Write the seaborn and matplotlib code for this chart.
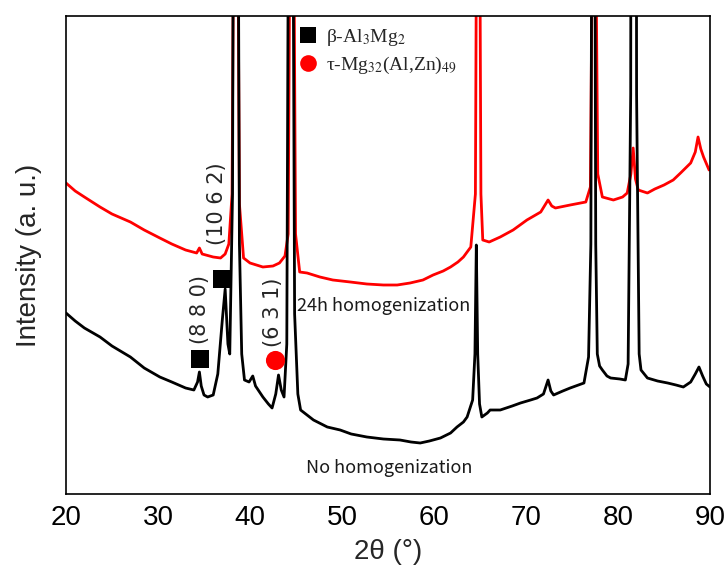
import matplotlib
matplotlib.use("Agg")
import matplotlib.pyplot as plt
from matplotlib.lines import Line2D
import seaborn as sns
import pandas as pd

# ---- data (2theta in degrees, intensity in arbitrary units) ----
two_theta_no = [20.0, 21.0, 22.0, 23.7, 25.0, 27.0, 28.5, 30.2, 31.5, 33.0, 33.9, 34.3, 34.5, 34.7,
                35.0, 35.4, 36.0, 36.5, 37.0, 37.3, 37.6, 37.8, 38.1, 38.22, 38.35, 38.55, 38.68, 38.85,
                39.1, 39.4, 39.9, 40.3, 40.6, 41.4, 42.0, 42.4, 42.8, 43.1, 43.4, 43.7, 44.0, 44.18,
                44.3, 44.55, 44.67, 44.85, 45.2, 45.5, 46.9, 48.4, 49.8, 51.0, 52.7, 54.5, 56.3, 57.5,
                58.5, 59.5, 60.7, 61.8, 62.5, 63.2, 63.6, 64.2, 64.45, 64.6, 64.75, 64.95, 65.2, 65.8,
                66.1, 67.2, 68.5, 69.4, 70.5, 71.2, 71.9, 72.4, 72.7, 73.0, 74.0, 74.8, 75.7, 76.3,
                76.8, 77.05, 77.18, 77.3, 77.45, 77.58, 77.75, 78.0, 78.3, 78.8, 79.2, 80.2, 80.8, 81.1,
                81.38, 81.5, 81.9, 82.02, 82.3, 82.5, 83.2, 84.3, 85.4, 86.3, 87.1, 87.9, 88.4, 88.8,
                89.2, 89.6, 90.0]
intensity_no = [181, 173, 166, 157, 148, 137, 126, 117, 112, 106, 104, 112, 122, 108,
                99, 97, 99, 120, 175, 205, 150, 140, 300, 700, 1500, 1500, 700, 250,
                140, 114, 112, 118, 108, 97, 90, 86, 100, 119, 104, 97, 150, 600,
                1500, 1500, 600, 180, 100, 84, 74, 67, 64, 60, 57, 55, 54, 52,
                51, 53, 56, 61, 67, 72, 77, 94, 140, 249, 140, 90, 77, 81,
                84, 84, 88, 91, 94, 96, 100, 114, 103, 99, 103, 106, 109, 111,
                137, 250, 700, 1500, 700, 250, 140, 128, 124, 118, 116, 115, 114, 130,
                400, 1500, 1500, 400, 140, 124, 116, 113, 111, 109, 107, 112, 120, 127,
                118, 110, 107]

two_theta_24h = [20.0, 21.0, 22.0, 23.7, 25.0, 27.0, 28.5, 30.2, 31.5, 33.0, 34.2, 34.5, 34.8,
                 36.0, 36.8, 37.3, 37.7, 38.05, 38.3, 38.45, 38.6, 38.85, 39.3, 40.0, 41.4,
                 42.5, 43.2, 43.8, 44.15, 44.42, 44.55, 44.68, 44.95, 45.4, 46.2, 47.6, 49.0,
                 50.9, 52.7, 54.5, 56.0, 57.4, 58.8, 59.9, 61.0, 61.8, 62.6, 63.2, 64.0, 64.5,
                 64.68, 64.8, 64.92, 65.1, 65.3, 66.0, 67.2, 68.6, 70.1, 71.6, 72.4, 72.8,
                 73.2, 74.8, 76.5, 77.0, 77.25, 77.4, 77.55, 77.8, 78.3, 79.5, 80.5, 81.0, 81.4,
                 81.65, 81.9, 82.2, 83.2, 84.0, 85.0, 86.0, 86.8, 87.9, 88.4, 88.7, 89.0, 89.3,
                 89.9]
intensity_24h = [311, 303, 297, 287, 280, 272, 264, 256, 250, 244, 241, 246, 240,
                 237, 236, 240, 250, 300, 700, 1500, 700, 290, 236, 231, 227,
                 228, 231, 238, 260, 700, 1500, 700, 260, 222, 221, 217, 214,
                 212, 210, 209, 209, 211, 214, 219, 223, 227, 232, 237, 247, 300,
                 700, 1500, 700, 300, 254, 252, 257, 264, 274, 282, 294, 288,
                 286, 289, 292, 307, 600, 1500, 600, 320, 297, 294, 297, 301, 320,
                 346, 315, 304, 301, 305, 309, 314, 321, 331, 342, 357, 345, 337,
                 324]

series_labels = ["No homogenization", "24h homogenization"]
phase_labels = [r"β-Al$_3$Mg$_2$", r"τ-Mg$_{32}$(Al,Zn)$_{49}$"]
x_ticks = [20, 30, 40, 50, 60, 70, 80, 90]

# reflections: marker positions and label positions
beta_peaks_tt = [34.55, 36.95]
beta_peaks_int = [135, 215]
beta_labels = ["(8 8 0)", "(10 6 2)"]
beta_label_tt = [34.6, 36.45]
beta_label_int = [184, 290]
tau_peaks_tt = [42.75]
tau_peaks_int = [134]
tau_labels = ["(6 3 1)"]
tau_label_tt = [42.55]
tau_label_int = [182]

# ---- build frames ----
df_no = pd.DataFrame({"two_theta": two_theta_no, "intensity": intensity_no})
df_24 = pd.DataFrame({"two_theta": two_theta_24h, "intensity": intensity_24h})

sns.set_style("white")
plt.rcParams["font.family"] = ["Liberation Sans", "DejaVu Sans"]
plt.rcParams["mathtext.fontset"] = "stix"

fig = plt.figure(figsize=(7.27, 5.79), dpi=100)
ax = fig.add_axes([66 / 727, 1 - 494 / 579, 644 / 727, 478 / 579])

sns.lineplot(data=df_24, x="two_theta", y="intensity", ax=ax, color="#ff0000",
             linewidth=2.0, sort=False, estimator=None)
sns.lineplot(data=df_no, x="two_theta", y="intensity", ax=ax, color="black",
             linewidth=2.0, sort=False, estimator=None)

ax.set_xlim(20, 90)
ax.set_ylim(0, 478)
ax.set_xticks(x_ticks)
ax.set_xticklabels([str(t) for t in x_ticks])
ax.set_yticks([])
ax.tick_params(axis="x", direction="in", length=8, width=1.2, labelsize=20, pad=8,
               colors="black")
for s in ax.spines.values():
    s.set_color("black")
    s.set_linewidth(1.2)

ax.set_xlabel("2θ (°)", fontsize=20, labelpad=6)
ax.set_ylabel("Intensity (a. u.)", fontsize=20, labelpad=17)

# phase markers
ax.scatter(beta_peaks_tt, beta_peaks_int, marker="s", s=170, color="black", zorder=5,
           linewidths=0)
ax.scatter(tau_peaks_tt, tau_peaks_int, marker="o", s=190, color="#ff0000", zorder=5,
           linewidths=0)

ann_font = ["DejaVu Sans"]
for t, x, y in zip(beta_labels, beta_label_tt, beta_label_int):
    ax.text(x, y, t, rotation=90, ha="center", va="center", fontsize=15, family=ann_font)
for t, x, y in zip(tau_labels, tau_label_tt, tau_label_int):
    ax.text(x, y, t, rotation=90, ha="center", va="center", fontsize=15, family=ann_font)

lab_font = ["Noto Sans CJK KR", "DejaVu Sans"]
ax.text(54.55, 188, series_labels[1], ha="center", va="center", fontsize=13,
        family=lab_font, color="#1a1a1a")
ax.text(55.15, 26, series_labels[0], ha="center", va="center", fontsize=13,
        family=lab_font, color="#1a1a1a")

handles = [Line2D([], [], linestyle="none", marker="s", markersize=11, color="black",
                  markeredgewidth=0),
           Line2D([], [], linestyle="none", marker="o", markersize=12, color="#ff0000",
                  markeredgewidth=0)]
ax.legend(handles, phase_labels, loc="upper left", bbox_to_anchor=(0.355, 0.985),
          frameon=False, handlelength=1.0, handletextpad=0.4, borderpad=0.2,
          borderaxespad=0, labelspacing=0.35,
          prop={"family": ["Liberation Serif", "DejaVu Serif"], "size": 14})

fig.savefig("out.png", dpi=100)
